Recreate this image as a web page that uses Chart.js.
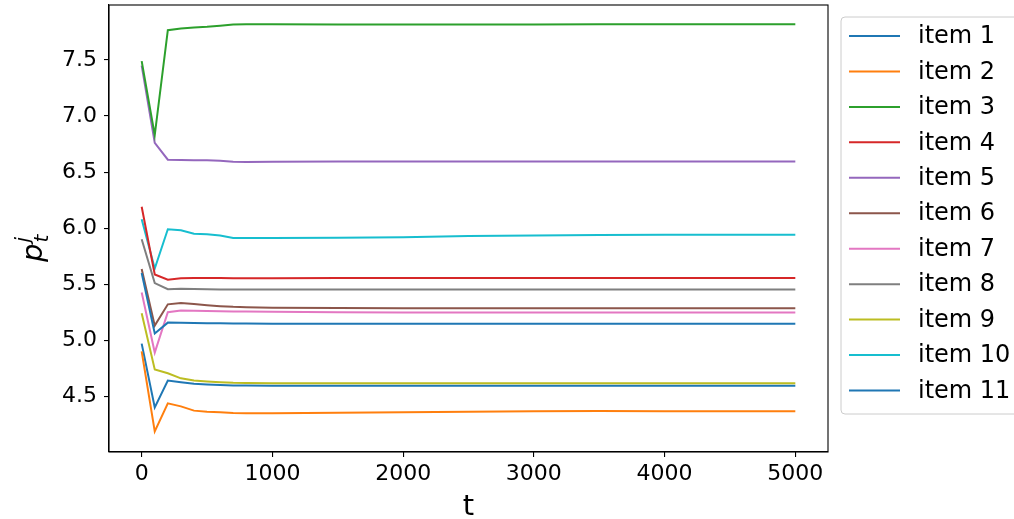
<!DOCTYPE html>
<html>
<head>
<meta charset="utf-8">
<script src="https://cdn.jsdelivr.net/npm/chart.js@4/dist/chart.umd.min.js"></script>
<style>
  body { margin: 0; background: #fff; }
  canvas { display: block; }
</style>
</head>
<body>
<canvas id="priceChart" width="1014" height="519"></canvas>
<script>
// time steps (x) and price trajectories per item
const timeSteps = [0, 100, 200, 300, 400, 500, 600, 700, 800, 1000, 1500, 2000, 2500, 3000, 3500, 4000, 4500, 5000];

const item1 = [5.60, 5.06, 5.157, 5.155, 5.153, 5.152, 5.151, 5.150, 5.149, 5.148, 5.148, 5.147, 5.147, 5.147, 5.146, 5.147, 5.147, 5.147];
const item2 = [4.90, 4.187, 4.437, 4.41, 4.372, 4.362, 4.357, 4.350, 4.349, 4.348, 4.352, 4.357, 4.362, 4.366, 4.368, 4.367, 4.367, 4.367];
const item3 = [7.49, 6.83, 7.765, 7.78, 7.79, 7.795, 7.805, 7.815, 7.818, 7.818, 7.815, 7.816, 7.816, 7.817, 7.818, 7.818, 7.818, 7.818];
const item4 = [6.19, 5.586, 5.54, 5.553, 5.555, 5.555, 5.554, 5.553, 5.553, 5.553, 5.554, 5.555, 5.555, 5.555, 5.555, 5.555, 5.555, 5.555];
const item5 = [7.45, 6.76, 6.61, 6.607, 6.605, 6.605, 6.600, 6.592, 6.590, 6.592, 6.595, 6.594, 6.593, 6.593, 6.593, 6.593, 6.593, 6.593];
const item6 = [5.636, 5.13, 5.32, 5.332, 5.322, 5.312, 5.304, 5.298, 5.295, 5.29, 5.287, 5.286, 5.285, 5.285, 5.285, 5.285, 5.285, 5.285];
const item7 = [5.425, 4.89, 5.25, 5.265, 5.262, 5.26, 5.258, 5.257, 5.256, 5.255, 5.249, 5.248, 5.247, 5.247, 5.247, 5.247, 5.247, 5.247];
const item8 = [5.90, 5.51, 5.455, 5.46, 5.457, 5.455, 5.453, 5.452, 5.452, 5.452, 5.452, 5.452, 5.452, 5.452, 5.452, 5.452, 5.452, 5.452];
const item9 = [5.24, 4.74, 4.705, 4.66, 4.64, 4.632, 4.625, 4.62, 4.618, 4.617, 4.616, 4.616, 4.616, 4.616, 4.616, 4.616, 4.616, 4.616];
const item10 = [6.08, 5.64, 5.99, 5.98, 5.95, 5.945, 5.935, 5.912, 5.912, 5.912, 5.914, 5.918, 5.93, 5.935, 5.938, 5.94, 5.94, 5.94];
const item11 = [4.97, 4.40, 4.64, 4.625, 4.612, 4.605, 4.600, 4.597, 4.596, 4.595, 4.594, 4.593, 4.593, 4.593, 4.593, 4.593, 4.593, 4.593];

const itemNames = ["item 1", "item 2", "item 3", "item 4", "item 5", "item 6", "item 7", "item 8", "item 9", "item 10", "item 11"];
const itemSeries = [item1, item2, item3, item4, item5, item6, item7, item8, item9, item10, item11];
const itemColors = ["#1f77b4", "#ff7f0e", "#2ca02c", "#d62728", "#9467bd", "#8c564b", "#e377c2", "#7f7f7f", "#bcbd22", "#17becf", "#1f77b4"];

const xTicks = [0, 1000, 2000, 3000, 4000, 5000];
const yTicks = [4.5, 5.0, 5.5, 6.0, 6.5, 7.0, 7.5];

const FONT = "'DejaVu Sans', sans-serif";

// frame, axis titles and legend box (matplotlib look)
const extrasPlugin = {
  id: "extras",
  afterDraw(chart) {
    const c = chart.ctx;
    const a = chart.chartArea;
    c.save();
    // full frame
    c.strokeStyle = "#000";
    c.lineWidth = 1.1;
    c.strokeRect(a.left, a.top, a.right - a.left, a.bottom - a.top);

    // x title
    c.fillStyle = "#000";
    c.font = "29px " + FONT;
    c.textAlign = "center";
    c.textBaseline = "alphabetic";
    c.fillText("t", (a.left + a.right) / 2, 515);

    // y title  p_t^j
    c.save();
    c.translate(42, 262);
    c.rotate(-Math.PI / 2);
    c.textAlign = "left";
    c.font = "italic 29px " + FONT;
    c.fillText("p", 0, 0);
    const pw = c.measureText("p").width;
    c.font = "italic 20px " + FONT;
    c.fillText("j", pw + 1, -13);
    c.fillText("t", pw + 1, 6);
    c.restore();

    // legend
    const lx = 841, ly = 17, lw = 180, lh = 397;
    c.beginPath();
    c.roundRect(lx, ly, lw, lh, 4);
    c.fillStyle = "rgba(255,255,255,0.8)";
    c.fill();
    c.strokeStyle = "#cccccc";
    c.lineWidth = 1;
    c.stroke();
    c.font = "24px " + FONT;
    c.textAlign = "left";
    c.textBaseline = "middle";
    chart.data.datasets.forEach((ds, i) => {
      const y = 36 + i * 35.45;
      c.strokeStyle = ds.borderColor;
      c.lineWidth = 2;
      c.beginPath();
      c.moveTo(849, y);
      c.lineTo(900, y);
      c.stroke();
      c.fillStyle = "#000";
      c.fillText(ds.label, 918, y + 1);
    });
    c.restore();
  }
};

const ctx = document.getElementById("priceChart").getContext("2d");
const priceChart = new Chart(ctx, {
  type: "line",
  data: {
    datasets: itemSeries.map((vals, i) => ({
      label: itemNames[i],
      data: timeSteps.map((t, k) => ({ x: t, y: vals[k] })),
      borderColor: itemColors[i],
      backgroundColor: itemColors[i],
      borderWidth: 2,
      pointRadius: 0,
      tension: 0,
      fill: false,
    })),
  },
  options: {
    responsive: false,
    animation: false,
    devicePixelRatio: 1,
    layout: { padding: { left: 0, top: 5, right: 186, bottom: 0 } },
    plugins: {
      legend: { display: false },
      tooltip: { enabled: false },
    },
    scales: {
      x: {
        type: "linear",
        min: -250,
        max: 5250,
        afterBuildTicks: (s) => { s.ticks = xTicks.map((v) => ({ value: v })); },
        afterFit: (s) => { s.height = 67; s.paddingLeft = 0; s.paddingRight = 0; },
        grid: { display: true, drawOnChartArea: false, drawTicks: true, tickLength: 5, color: "#000", lineWidth: 1.1 },
        border: { display: true, color: "#000", width: 1.1 },
        ticks: {
          color: "#000",
          font: { family: FONT, size: 22 },
          padding: 4,
          maxRotation: 0,
          callback: (v) => String(v),
        },
      },
      y: {
        type: "linear",
        min: 4.003,
        max: 7.99,
        afterBuildTicks: (s) => { s.ticks = yTicks.map((v) => ({ value: v })); },
        afterFit: (s) => { s.width = 109; s.paddingTop = 0; s.paddingBottom = 0; },
        grid: { display: true, drawOnChartArea: false, drawTicks: true, tickLength: 5, color: "#000", lineWidth: 1.1 },
        border: { display: true, color: "#000", width: 1.1 },
        ticks: {
          color: "#000",
          font: { family: FONT, size: 22 },
          padding: 7,
          callback: (v) => v.toFixed(1),
        },
      },
    },
  },
  plugins: [extrasPlugin],
});
</script>
</body>
</html>
